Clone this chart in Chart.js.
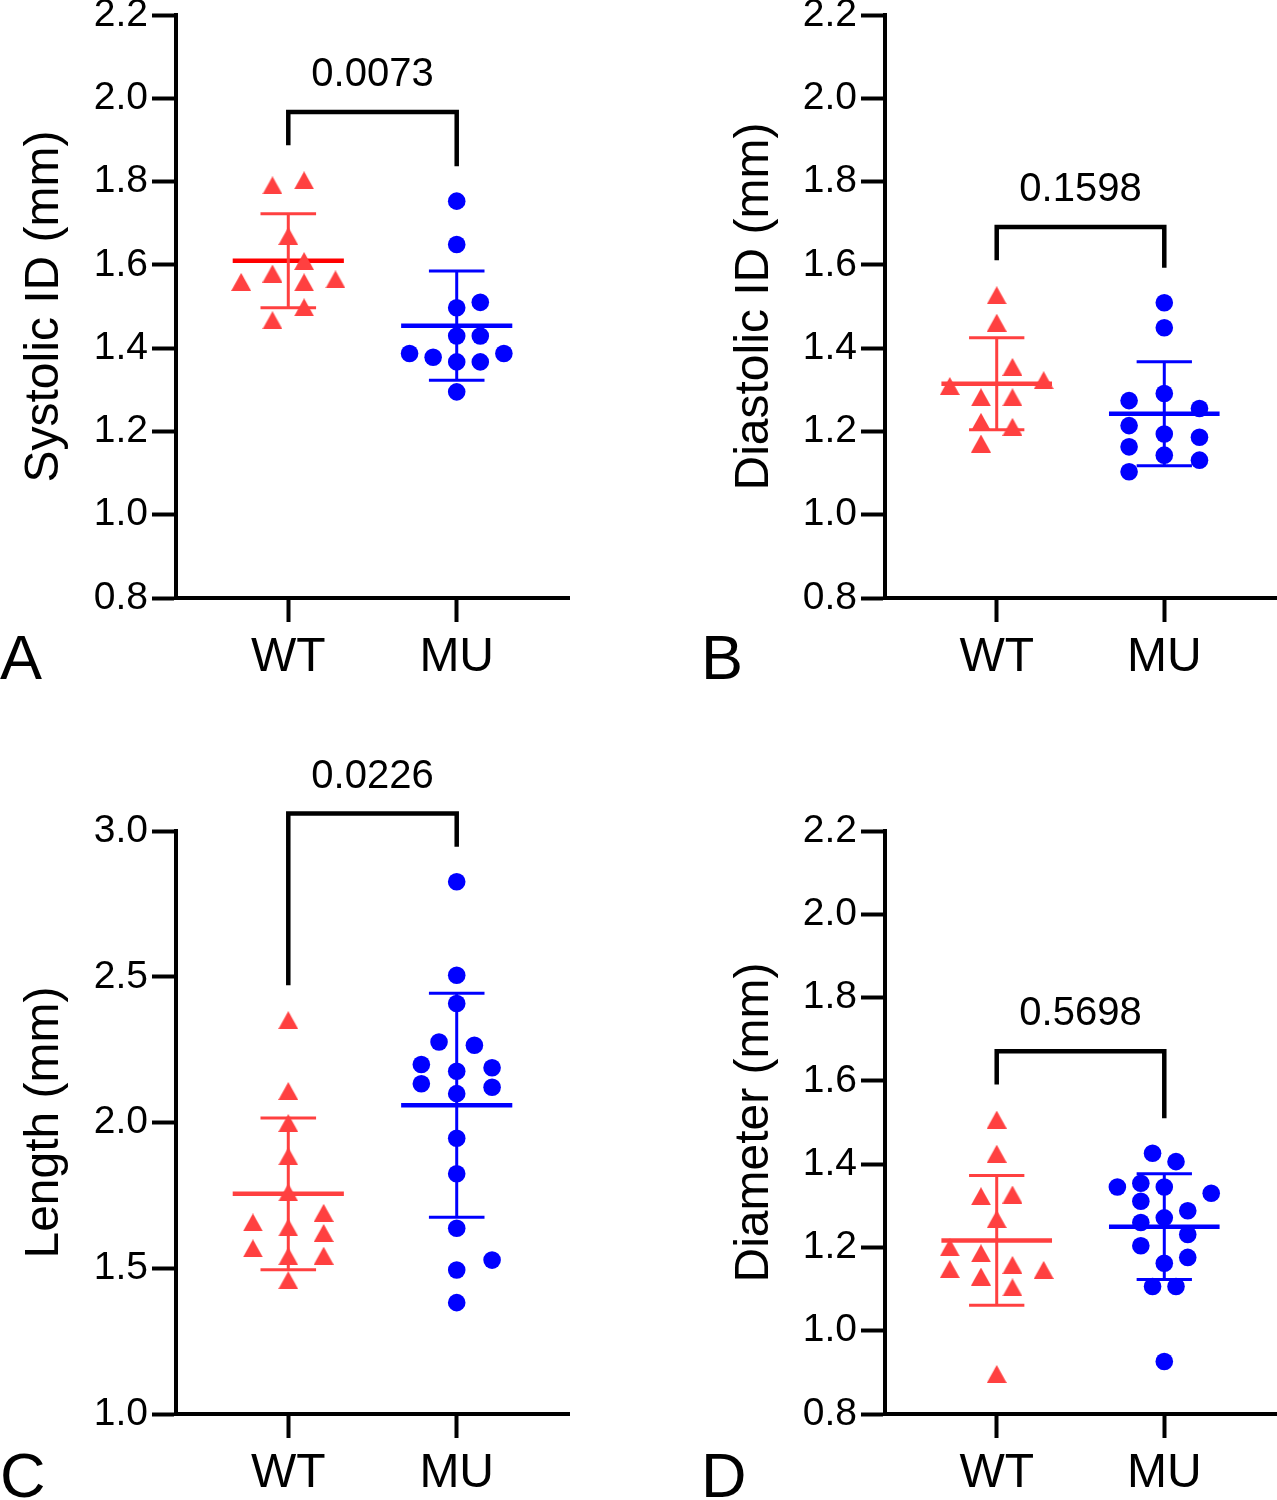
<!DOCTYPE html>
<html>
<head>
<meta charset="utf-8">
<script src="https://cdn.jsdelivr.net/npm/chart.js@4.4.0/dist/chart.umd.min.js"></script>
<style>
  body { margin: 0; background: #fff; width: 1277px; height: 1500px; position: relative; overflow: hidden; }
  canvas { position: absolute; }
</style>
</head>
<body>
<canvas id="cA" width="580" height="684" style="left:0;top:0"></canvas>
<canvas id="cB" width="580" height="684" style="left:697px;top:0"></canvas>
<canvas id="cC" width="580" height="760" style="left:0;top:740px"></canvas>
<canvas id="cD" width="580" height="760" style="left:697px;top:740px"></canvas>
<script>
// ===== Data =====
const groups = ['WT', 'MU'];

// A - systolic ID (mm)
const sysWT = [1.791, 1.803, 1.669, 1.609, 1.579, 1.559, 1.558, 1.565, 1.498, 1.467];
const sysMU = [1.753, 1.649, 1.497, 1.510, 1.429, 1.429, 1.387, 1.378, 1.367, 1.367, 1.387, 1.295];
// B - diastolic ID (mm)
const diaWT = [1.527, 1.461, 1.355, 1.309, 1.323, 1.282, 1.282, 1.223, 1.211, 1.171];
const diaMU = [1.509, 1.449, 1.291, 1.274, 1.255, 1.214, 1.194, 1.186, 1.163, 1.143, 1.131, 1.103];
// C - length (mm)
const lenWT = [2.351, 2.108, 1.998, 1.884, 1.760, 1.657, 1.690, 1.640, 1.621, 1.568, 1.541, 1.543, 1.459];
const lenMU = [2.826, 2.505, 2.408, 2.276, 2.265, 2.199, 2.176, 2.188, 2.133, 2.099, 2.121, 1.946, 1.824, 1.637, 1.528, 1.494, 1.382];
// D - diameter (mm)
const diaDWT = [1.507, 1.425, 1.323, 1.327, 1.268, 1.200, 1.186, 1.148, 1.130, 1.158, 1.146, 1.104, 0.896];
const diaDMU = [1.426, 1.406, 1.345, 1.354, 1.345, 1.330, 1.311, 1.288, 1.260, 1.271, 1.231, 1.204, 1.176, 1.162, 1.106, 1.106, 0.926];

// p values (unpaired t test) shown above brackets
const pValues = ['0.0073', '0.1598', '0.0226', '0.5698'];

// scatter spread (fraction of the gap between the two groups)
const sysWTJit = [-0.094, 0.094, 0, 0.094, -0.094, -0.28, 0.094, 0.28, 0.094, -0.094];
const sysMUJit = [0, 0, 0, 0.14, 0, 0.14, -0.28, -0.14, 0, 0.14, 0.28, 0];
const diaWTJit = [0, 0, 0.094, -0.28, 0.28, -0.094, 0.094, -0.094, 0.094, -0.094];
const diaMUJit = [0, 0, 0, -0.21, 0.21, -0.21, 0, 0.21, -0.21, 0, 0.21, -0.21];
const lenWTJit = [0, 0, 0, 0, 0, -0.21, 0.21, 0, 0.21, -0.21, 0, 0.21, 0];
const lenMUJit = [0, 0, 0, -0.105, 0.105, -0.21, 0, 0.21, -0.21, 0, 0.21, 0, 0, 0, 0.21, 0, 0];
const diaDWTJit = [0, 0, -0.094, 0.094, 0, -0.28, -0.094, -0.28, -0.094, 0.094, 0.28, 0.094, 0];
const diaDMUJit = [-0.07, 0.07, -0.28, -0.14, 0, 0.28, -0.14, 0.14, -0.14, 0, 0.14, -0.14, 0.14, 0, -0.07, 0.07, 0];

const RED = 'rgb(255,64,64)';
const BLUE = '#0000ff';
Chart.defaults.font.family = '"Liberation Sans", Arial, Helvetica, sans-serif';
Chart.defaults.color = '#000';

// ===== Helpers =====
function meanSd(arr) {
    let m = arr.reduce((a, b) => a + b, 0) / arr.length;
    let v = arr.reduce((a, b) => a + (b - m) * (b - m), 0) / (arr.length - 1);
    return [m, Math.sqrt(v)];
}

function triangleImg(color) {
    let c = document.createElement('canvas');
    c.width = 20; c.height = 18;
    let g = c.getContext('2d');
    g.fillStyle = color;
    g.beginPath();
    g.moveTo(10, 0); g.lineTo(20, 18); g.lineTo(0, 18);
    g.closePath();
    g.fill();
    return c;
}

function seg(points, color, width) {
    return {
        data: points, showLine: true, borderColor: color, borderWidth: width,
        pointRadius: 0, borderCapStyle: 'butt', borderJoinStyle: 'miter',
        clip: false, order: 1
    };
}

function summary(values, x, color, meanColor) {
    let [m, s] = meanSd(values);
    return [
        seg([{x: x, y: m - s}, {x: x, y: m + s}], color, 3),
        seg([{x: x - 0.165, y: m + s}, {x: x + 0.165, y: m + s}], color, 3),
        seg([{x: x - 0.165, y: m - s}, {x: x + 0.165, y: m - s}], color, 3),
        seg([{x: x - 0.33, y: m}, {x: x + 0.33, y: m}], meanColor, 4.5)
    ];
}

// panel letter + p value text
const annotate = {
    id: 'annotate',
    afterDatasetsDraw(chart, args, opts) {
        let ctx = chart.ctx;
        let xs = chart.scales.x, ys = chart.scales.y;
        ctx.save();
        ctx.fillStyle = '#000';
        ctx.textAlign = 'center';
        ctx.textBaseline = 'alphabetic';
        ctx.font = '40px "Liberation Sans", Arial, sans-serif';
        ctx.fillText(opts.p, xs.getPixelForValue(1.5), ys.getPixelForValue(opts.top) - 26);
        ctx.textAlign = 'left';
        ctx.font = '63px "Liberation Sans", Arial, sans-serif';
        ctx.fillText(opts.letter, opts.letterX, opts.letterY);
        ctx.restore();
    }
};

function makePanel(id, cfg) {
    let range = cfg.max - cfg.min;
    let legWT = Math.max(...cfg.wt) + 0.06 * range;
    let legMU = Math.max(...cfg.mu) + 0.06 * range;
    let top = Math.max(legWT, legMU) + 0.057 * range;
    let tri = triangleImg(RED);

    let datasets = [
        {
            data: cfg.wt.map((v, i) => ({x: 1 + cfg.wtJit[i], y: v})),
            pointStyle: tri, pointRadius: 10, clip: false, order: 0
        },
        {
            data: cfg.mu.map((v, i) => ({x: 2 + cfg.muJit[i], y: v})),
            pointStyle: 'circle', pointRadius: 8.8, pointBorderWidth: 0,
            backgroundColor: BLUE, borderColor: BLUE, clip: false, order: 0
        },
        ...summary(cfg.wt, 1, RED, cfg.wtMean || RED),
        ...summary(cfg.mu, 2, BLUE, BLUE),
        seg([{x: 1, y: legWT}, {x: 1, y: top}, {x: 2, y: top}, {x: 2, y: legMU}], '#000', 4.5)
    ];

    new Chart(document.getElementById(id), {
        type: 'scatter',
        data: { datasets: datasets },
        plugins: [annotate],
        options: {
            responsive: false,
            animation: false,
            layout: { autoPadding: false, padding: { top: cfg.padTop, right: cfg.padR, bottom: 0, left: 0 } },
            plugins: {
                legend: { display: false },
                tooltip: { enabled: false },
                annotate: { p: cfg.p, top: top, letter: cfg.letter, letterX: cfg.letterX, letterY: cfg.letterY }
            },
            scales: {
                x: {
                    type: 'linear', min: 1 / 3, max: 8 / 3,
                    afterFit: a => { a.height = 86; a.paddingLeft = 0; a.paddingRight = 0; },
                    afterBuildTicks: a => { a.ticks = [{value: 1}, {value: 2}]; },
                    grid: { drawOnChartArea: false, tickLength: 24, tickWidth: 4, tickColor: '#000' },
                    border: { display: true, width: 4, color: '#000' },
                    ticks: {
                        padding: 7, font: { size: 48 }, color: '#000',
                        callback: v => groups[Math.round(v) - 1]
                    }
                },
                y: {
                    min: cfg.min, max: cfg.max,
                    afterFit: a => { a.width = cfg.yW; a.paddingTop = 0; a.paddingBottom = 0; },
                    grid: { drawOnChartArea: false, tickLength: 24, tickWidth: 4, tickColor: '#000' },
                    border: { display: true, width: 4, color: '#000' },
                    ticks: {
                        stepSize: cfg.step, padding: 4, font: { size: 39 }, color: '#000',
                        callback: v => Number(v).toFixed(1)
                    },
                    title: {
                        display: true, text: cfg.title, color: '#000',
                        font: { size: 48 }, padding: { top: cfg.titlePad, bottom: 0 }
                    }
                }
            }
        }
    });
}

makePanel('cA', { wt: sysWT, mu: sysMU, wtJit: sysWTJit, muJit: sysMUJit, min: 0.8, max: 2.2, step: 0.2,
    title: 'Systolic ID (mm)', p: pValues[0], letter: 'A', letterX: 0, letterY: 679,
    yW: 176, padR: 11, padTop: 15, titlePad: 16, wtMean: '#ff0000' });
makePanel('cB', { wt: diaWT, mu: diaMU, wtJit: diaWTJit, muJit: diaMUJit, min: 0.8, max: 2.2, step: 0.2,
    title: 'Diastolic ID (mm)', p: pValues[1], letter: 'B', letterX: 4, letterY: 679,
    yW: 188, padR: 1, padTop: 15, titlePad: 29 });
makePanel('cC', { wt: lenWT, mu: lenMU, wtJit: lenWTJit, muJit: lenMUJit, min: 1.0, max: 3.0, step: 0.5,
    title: 'Length (mm)', p: pValues[2], letter: 'C', letterX: 0, letterY: 757,
    yW: 176, padR: 11, padTop: 91, titlePad: 16 });
makePanel('cD', { wt: diaDWT, mu: diaDMU, wtJit: diaDWTJit, muJit: diaDMUJit, min: 0.8, max: 2.2, step: 0.2,
    title: 'Diameter (mm)', p: pValues[3], letter: 'D', letterX: 4, letterY: 757,
    yW: 188, padR: 1, padTop: 91, titlePad: 29 });
</script>
</body>
</html>
